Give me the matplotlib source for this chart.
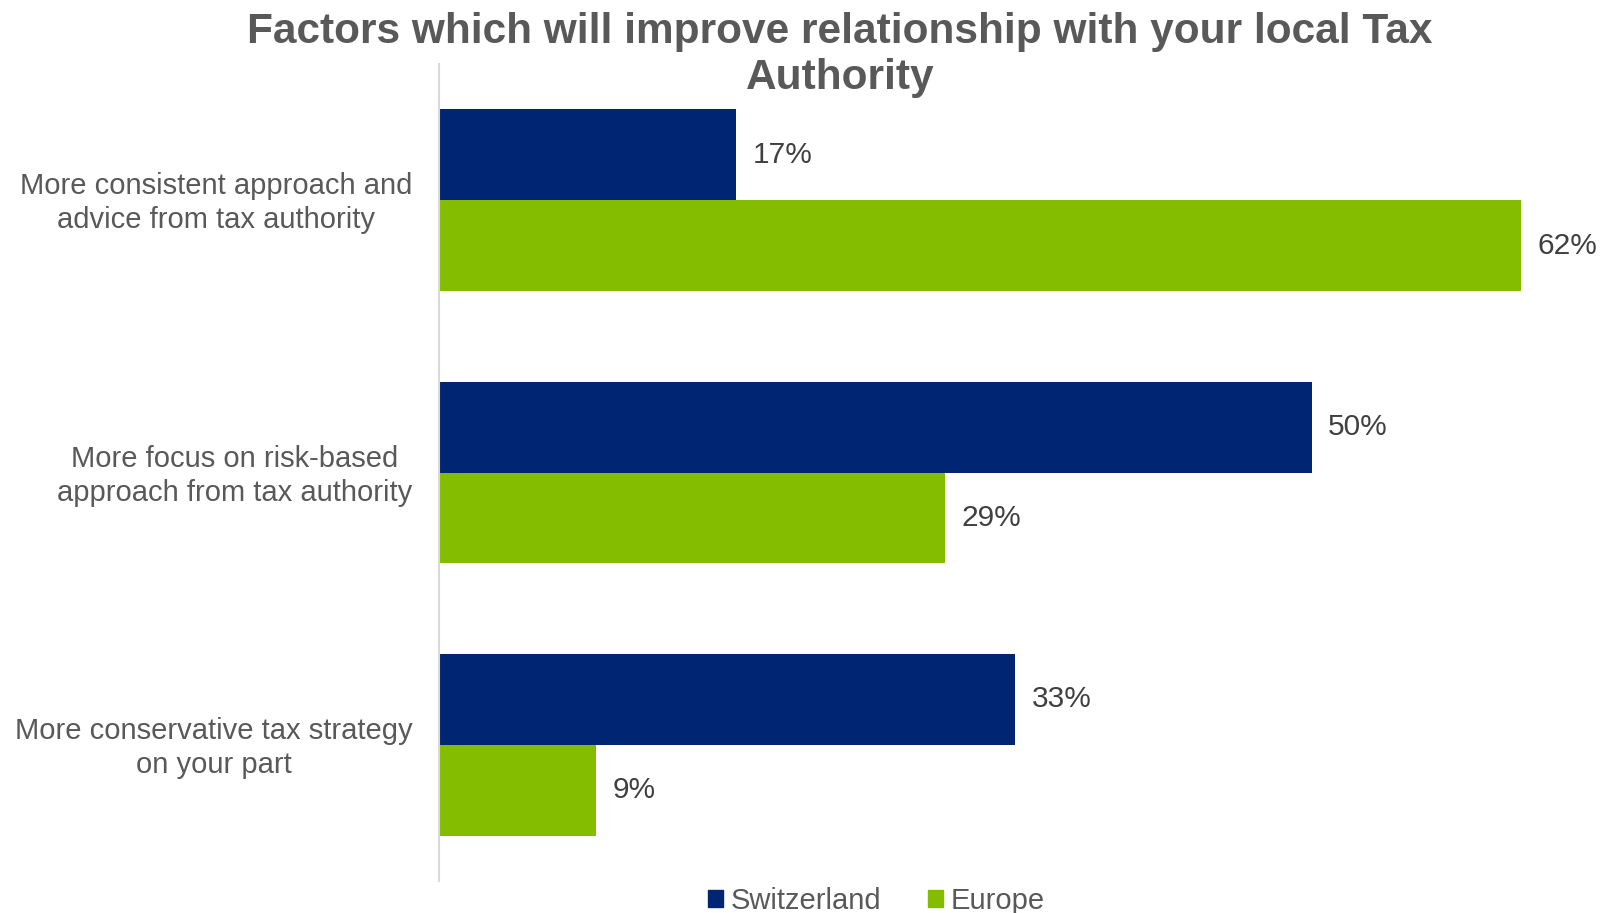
import matplotlib.pyplot as plt
import numpy as np
from matplotlib.patches import Patch

plt.rcParams['font.family'] = ['Liberation Sans', 'DejaVu Sans']

# Data
categories = ['More consistent approach and\nadvice from tax authority',
              'More focus on risk-based\napproach from tax authority',
              'More conservative tax strategy\non your part']
switzerland = [17, 50, 33]
europe = [62, 29, 9]
series_names = ['Switzerland', 'Europe']

navy = '#002673'
green = '#84BD00'
grey_text = '#595959'
value_text = '#404040'

fig = plt.figure(figsize=(16.1, 9.13), dpi=100)
ax = fig.add_axes([439 / 1610, 1 - 881 / 913, 1 - 439 / 1610, (881 - 64) / 913])

y = np.arange(len(categories))
h = 1 / 3
bars_ch = ax.barh(y - h / 2, switzerland, height=h, color=navy)
bars_eu = ax.barh(y + h / 2, europe, height=h, color=green)

ax.set_xlim(0, 67.1)
ax.set_ylim(len(categories) - 0.5, -0.5)

# Value labels at the end of each bar
for bars, vals in [(bars_ch, switzerland), (bars_eu, europe)]:
    for b, v in zip(bars, vals):
        ax.annotate(f'{v}%', (v, b.get_y() + b.get_height() / 2),
                    xytext=(12, 0), textcoords='offset points',
                    ha='left', va='center', fontsize=21.5, color=value_text)

# Category labels: block right-aligned, lines centred within the block
ax.set_yticks([])
ax.set_xticks([])
for yi, cat in zip(y, categories):
    ax.annotate(cat, (0, yi), xycoords=('axes fraction', 'data'),
                xytext=(-19, -2.2), textcoords='offset points',
                ha='right', va='center', multialignment='center',
                fontsize=21, color=grey_text, linespacing=1.27)

for s in ['top', 'right', 'bottom']:
    ax.spines[s].set_visible(False)
ax.spines['left'].set_color('#d9d9d9')
ax.spines['left'].set_linewidth(1.5)

# Title
fig.text(840 / 1610, 1 - 55 / 913,
         'Factors which will improve relationship with your local Tax\nAuthority',
         ha='center', va='center', fontsize=30.5, fontweight='bold',
         color=grey_text, linespacing=1.22)

# Legend
handles = [Patch(color=navy), Patch(color=green)]
fig.legend(handles, series_names, loc='center', ncol=2,
           bbox_to_anchor=(876 / 1610, 1 - 901 / 913), frameon=False,
           fontsize=21, labelcolor=grey_text, handlelength=0.53,
           handleheight=0.53, handletextpad=0.25, columnspacing=1.6,
           borderpad=0)

fig.savefig('out.png', dpi=100)
